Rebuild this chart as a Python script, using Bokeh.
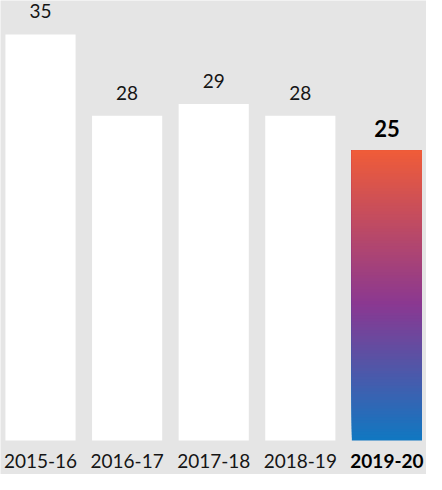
import numpy as np
from bokeh.plotting import figure
from bokeh.models import Range1d, ColumnDataSource
from bokeh.core.properties import value
from bokeh.embed import file_html
from bokeh.resources import INLINE

categories = ["2015-16", "2016-17", "2017-18", "2018-19", "2019-20"]
values = [35, 28, 29, 28, 25]
highlight = "2019-20"

BG = "#e5e5e5"
TEXT = "#151515"
FONT = "Lato"
grad_stops = [(0.0, (16, 120, 194)), (0.47, (138, 56, 145)), (1.0, (240, 92, 56))]

p = figure(width=426, height=474, output_backend="svg", toolbar_location=None,
           x_range=Range1d(-0.462, 4.457), y_range=Range1d(-2.93, 37.93),
           min_border=0, min_border_left=0, min_border_right=0,
           min_border_top=0, min_border_bottom=0)
p.background_fill_color = BG
p.border_fill_color = BG
p.outline_line_color = None
p.xaxis.visible = False
p.yaxis.visible = False
p.grid.visible = False

xs = list(range(len(categories)))
plain = [i for i, c in enumerate(categories) if c != highlight]
hi = [i for i, c in enumerate(categories) if c == highlight]

src = ColumnDataSource(dict(x=[xs[i] for i in plain], top=[values[i] for i in plain]))
p.vbar(x="x", top="top", bottom=0, width=0.81, source=src,
       fill_color="white", line_color=None)


def interp(t):
    for (t0, c0), (t1, c1) in zip(grad_stops[:-1], grad_stops[1:]):
        if t0 <= t <= t1:
            f = (t - t0) / (t1 - t0) if t1 > t0 else 0
            return "#%02x%02x%02x" % tuple(int(round(a + (b - a) * f)) for a, b in zip(c0, c1))
    return "#%02x%02x%02x" % grad_stops[-1][1]


N = 100
for i in hi:
    v = values[i]
    edges = np.linspace(0, v, N + 1)
    cols = [interp((k + 0.5) / N) for k in range(N)]
    gsrc = ColumnDataSource(dict(x=[xs[i]] * N, bottom=edges[:-1], top=[v] * N, c=cols))
    p.vbar(x="x", bottom="bottom", top="top", width=0.81, source=gsrc,
           fill_color="c", line_color=None)

for i, (c, v) in enumerate(zip(categories, values)):
    bold = c == highlight
    p.text(x=[xs[i]], y=[v], text=[str(v)], text_align="center",
           text_baseline="alphabetic", y_offset=-22 if bold else -23,
           text_font=value(FONT), text_font_size="22px" if bold else "19px",
           text_font_style="bold" if bold else "normal", text_color="black" if bold else TEXT)
    p.text(x=[xs[i]], y=[0], text=[c], text_align="center",
           text_baseline="alphabetic", y_offset=20,
           text_font=value(FONT), text_font_size="19px",
           text_font_style="bold" if bold else "normal", text_color="black" if bold else TEXT)

open("out.html", "w").write(file_html(p, INLINE))
